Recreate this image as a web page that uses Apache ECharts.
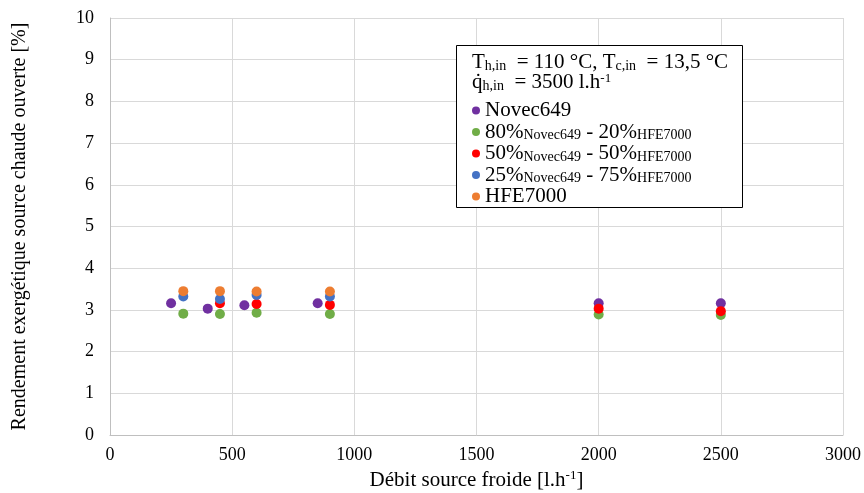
<!DOCTYPE html>
<html><head><meta charset="utf-8">
<script src="https://cdn.jsdelivr.net/npm/echarts@6/dist/echarts.min.js"></script>
<style>html,body{margin:0;padding:0;background:#fff}#c{width:864px;height:493px}</style>
</head><body><div id="c"></div>
<script>
var seriesNames = ['Novec649', '80%Novec649 - 20%HFE7000', '50%Novec649 - 50%HFE7000', '25%Novec649 - 75%HFE7000', 'HFE7000'];
var seriesColors = ['#7030A0', '#70AD47', '#FF0000', '#4472C4', '#ED7D31'];
var novecX = [250, 400, 550, 850, 2000, 2500];
var novecY = [3.16, 3.03, 3.11, 3.16, 3.16, 3.16];
var mix80X = [300, 450, 600, 900, 2000, 2500];
var mix80Y = [2.91, 2.90, 2.93, 2.90, 2.89, 2.88];
var mix50X = [450, 600, 900, 2000, 2500];
var mix50Y = [3.16, 3.14, 3.12, 3.03, 2.97];
var mix25X = [300, 450, 600, 900];
var mix25Y = [3.32, 3.26, 3.36, 3.32];
var hfeX = [300, 450, 600, 900];
var hfeY = [3.45, 3.45, 3.44, 3.44];
var xTicks = [0, 500, 1000, 1500, 2000, 2500, 3000];
var yTicks = [0, 1, 2, 3, 4, 5, 6, 7, 8, 9, 10];

function pairs(xs, ys) { return xs.map(function (x, i) { return [x, ys[i]]; }); }
var allX = [novecX, mix80X, mix50X, mix25X, hfeX];
var allY = [novecY, mix80Y, mix50Y, mix25Y, hfeY];

var FONT = '"Liberation Serif", "Times New Roman", serif';
var chart = echarts.init(document.getElementById('c'));
var legendRich = {
  m: { fontFamily: FONT, fontSize: 21, color: '#000', lineHeight: 21 },
  s: { fontFamily: FONT, fontSize: 14, color: '#000', lineHeight: 14, padding: [7, 0, 0, 0], verticalAlign: 'bottom' }
};
function fmtName(n) {
  var m = n.match(/^(\d+%)Novec649 - (\d+%)HFE7000$/);
  if (m) return '{m|' + m[1] + '}{s|Novec649}{m| - ' + m[2] + '}{s|HFE7000}';
  return '{m|' + n + '}';
}
chart.setOption({
  animation: false,
  backgroundColor: '#fff',
  grid: { left: 110, right: 21, top: 18, bottom: 58, outerBoundsMode: 'none', containLabel: false },
  xAxis: {
    type: 'value', min: xTicks[0], max: xTicks[xTicks.length - 1], interval: 500,
    name: 'Débit source froide [l.h{sup|-1}]', nameLocation: 'middle', nameGap: 33,
    nameTextStyle: { fontFamily: FONT, fontSize: 21, color: '#000',
      rich: { sup: { fontFamily: FONT, fontSize: 13, color: '#000', padding: [0, 0, 10, 0] } } },
    axisLine: { show: true, lineStyle: { color: '#bfbfbf', width: 1 } },
    axisTick: { show: false },
    axisLabel: { fontFamily: FONT, fontSize: 18, color: '#000', margin: 11, formatter: function (v) { return String(v); } },
    splitLine: { show: true, lineStyle: { color: '#d9d9d9', width: 1 } }
  },
  yAxis: {
    type: 'value', min: yTicks[0], max: yTicks[yTicks.length - 1], interval: 1,
    name: 'Rendement exergétique source chaude ouverte [%]', nameLocation: 'middle', nameGap: 80,
    nameTextStyle: { fontFamily: FONT, fontSize: 20, color: '#000' },
    axisLine: { show: true, lineStyle: { color: '#bfbfbf', width: 1 } },
    axisTick: { show: false },
    axisLabel: { fontFamily: FONT, fontSize: 18, color: '#000', margin: 16 },
    splitLine: { show: true, lineStyle: { color: '#d9d9d9', width: 1 } }
  },
  legend: {
    orient: 'vertical', left: 467, top: 95, z: 10, padding: 5,
    itemWidth: 8, itemHeight: 8, itemGap: 0.5, icon: 'circle',
    data: seriesNames,
    formatter: fmtName,
    textStyle: { fontFamily: FONT, fontSize: 21, color: '#000', rich: legendRich }
  },
  graphic: [
    { type: 'rect', z: 8, shape: { x: 456.5, y: 45.5, width: 286, height: 162 },
      style: { fill: '#fff', stroke: '#000', lineWidth: 1 } },
    { type: 'text', z: 9, left: 472, top: 52,
      style: { text: '{m|T}{s|h,in}{m|  = 110 °C, T}{s|c,in}{m|  = 13,5 °C}', rich: legendRich } },
    { type: 'text', z: 9, left: 472, top: 72,
      style: { text: '{m|q̇}{s|h,in}{m|  = 3500 l.h}{p|-1}', rich: {
        m: legendRich.m, s: legendRich.s,
        p: { fontFamily: FONT, fontSize: 13, color: '#000', lineHeight: 13, padding: [0, 0, 8, 0], verticalAlign: 'top' } } } }
  ],
  series: seriesNames.map(function (n, i) {
    return { name: n, type: 'scatter', symbol: 'circle', symbolSize: 10,
      itemStyle: { color: seriesColors[i], opacity: 1 }, data: pairs(allX[i], allY[i]), z: 2 + i };
  })
});
</script></body></html>
